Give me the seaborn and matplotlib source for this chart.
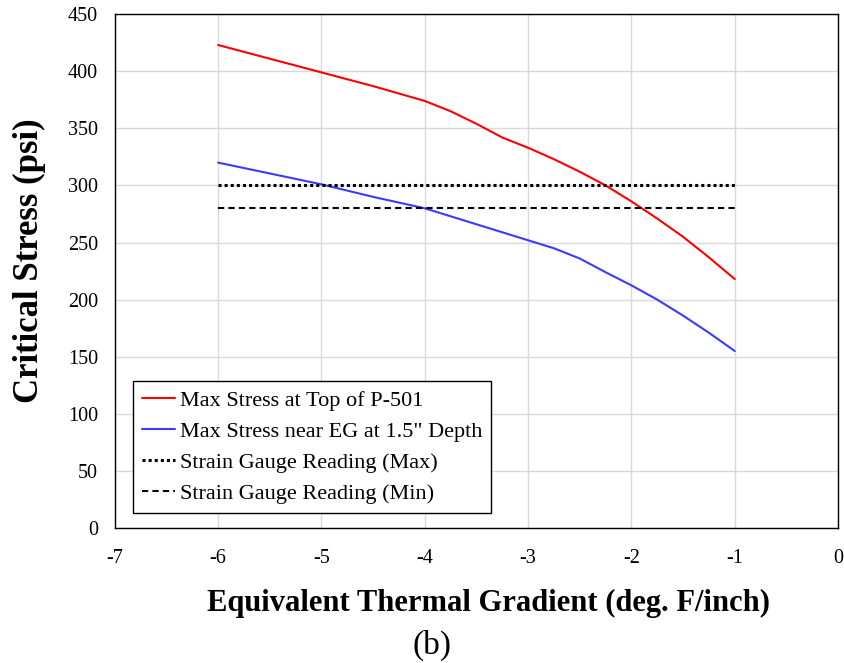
import numpy as np
import pandas as pd
import matplotlib
matplotlib.use('Agg')
import matplotlib.pyplot as plt
import seaborn as sns

# Values
gradient = [-6, -5.5, -5, -4.5, -4, -3.75, -3.5, -3.25, -3, -2.75, -2.5,
            -2.25, -2, -1.75, -1.5, -1.25, -1]
stress_top = [423, 411, 399, 387, 374, 365, 354, 342, 333, 323, 312,
              300, 286, 271, 255, 237, 218]
stress_eg = [320, 310.5, 301, 290, 280, 273, 266, 259, 252, 245, 236,
             224, 212.5, 200, 186, 171, 155]
gauge_x = [-6, -1]
gauge_max = [300, 300]
gauge_min = [280, 280]

sns.set_theme(style='white')
plt.rcParams['font.family'] = ['Liberation Serif', 'DejaVu Serif']
plt.rcParams['axes.unicode_minus'] = False
plt.rcParams['text.color'] = 'black'
plt.rcParams['axes.labelcolor'] = 'black'

fig = plt.figure(figsize=(8.44, 6.63), dpi=100)
ax = fig.add_axes([0.136, 0.2036, 0.857, 0.775])

df_top = pd.DataFrame({'x': gradient, 'y': stress_top})
df_eg = pd.DataFrame({'x': gradient, 'y': stress_eg})
df_max = pd.DataFrame({'x': gauge_x, 'y': gauge_max})
df_min = pd.DataFrame({'x': gauge_x, 'y': gauge_min})

sns.lineplot(data=df_top, x='x', y='y', ax=ax, color='#ff0000', linewidth=1.5,
             label='Max Stress at Top of P-501')
sns.lineplot(data=df_eg, x='x', y='y', ax=ax, color='#3b3bff', linewidth=1.5,
             label='Max Stress near EG at 1.5" Depth')
sns.lineplot(data=df_max, x='x', y='y', ax=ax, color='black', linewidth=2.2,
             linestyle=(0, (1, 1)), label='Strain Gauge Reading (Max)')
sns.lineplot(data=df_min, x='x', y='y', ax=ax, color='black', linewidth=1.5,
             linestyle=(0, (3, 2)), label='Strain Gauge Reading (Min)')

ax.set_xlim(-7, 0)
ax.set_ylim(0, 450)
ax.set_xticks(range(-7, 1))
ax.set_yticks(range(0, 451, 50))
ax.grid(True, color='#d9d9d9', linewidth=1)
ax.set_axisbelow(True)
for s in ax.spines.values():
    s.set_color('black')
    s.set_linewidth(1)
ax.tick_params(axis='both', length=0, labelsize=14.5, colors='black')
ax.tick_params(axis='x', pad=15)
ax.tick_params(axis='y', pad=12)

ax.set_xlabel('Equivalent Thermal Gradient (deg. F/inch)', fontsize=22,
              fontweight='bold')
ax.xaxis.set_label_coords(0.516, -0.118)
ax.set_ylabel('Critical Stress (psi)', fontsize=25, fontweight='bold')
ax.yaxis.set_label_coords(-0.095, 0.52)

leg = ax.legend(loc='lower left', bbox_to_anchor=(0.025, 0.029), fontsize=16,
                handlelength=1.5, handletextpad=0.2, borderpad=0.4,
                labelspacing=0.48, fancybox=False, framealpha=1, borderaxespad=0)
leg.get_frame().set_edgecolor('black')
leg.get_frame().set_linewidth(1)

fig.text(0.512, 0.027, '(b)', fontsize=24, ha='center', va='center')

fig.savefig('out.png', dpi=100)
